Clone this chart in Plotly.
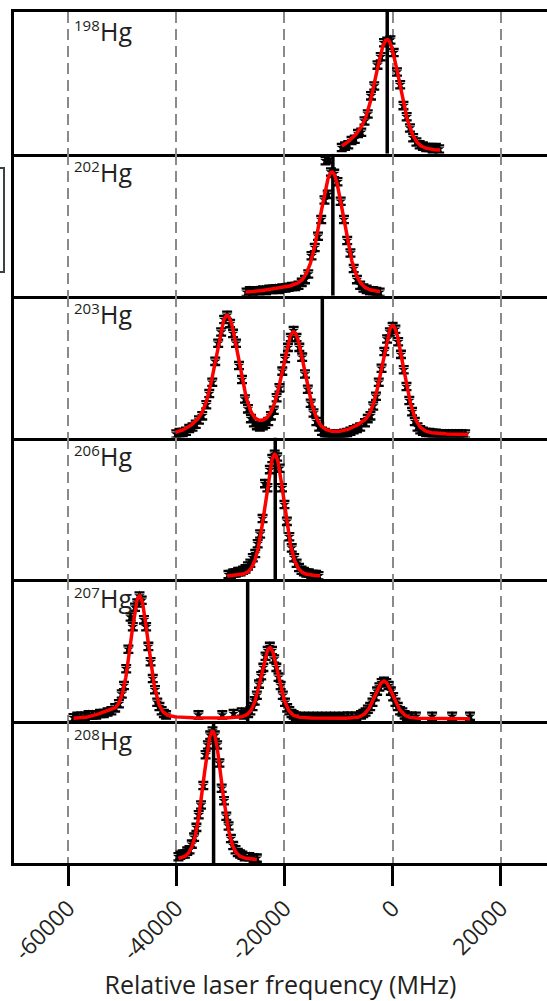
import numpy as np
import plotly.graph_objects as go
from plotly.subplots import make_subplots

# ---------------- data ----------------
isotopes = ["198", "202", "203", "206", "207", "208"]
tick_values = [-60000, -40000, -20000, 0, 20000]
tick_labels = ["-60000", "-40000", "-20000", "0", "20000"]
x_range = [-70000, 28540]
y_range = [-0.015, 1.0]
centroids = [-1000, -11050, -13000, -21700, -26800, -33100]

freq_198 = [-9400, -8800, -8200, -7600, -7000, -6400, -5800, -5200, -4600, -4000, -3400,
            -2800, -2200, -1600, -1000, -400, 200, 800, 1400, 2000, 2600, 3200, 3800,
            4400, 5000, 5600, 6200, 6800, 7400, 8000, 8600]
signal_198 = [0.03, 0.04, 0.05, 0.08, 0.09, 0.13, 0.14, 0.22, 0.27, 0.40, 0.47,
              0.62, 0.68, 0.78, 0.79, 0.80, 0.71, 0.57, 0.48, 0.33, 0.25, 0.17, 0.10,
              0.07, 0.05, 0.04, 0.03, 0.03, 0.02, 0.03, 0.02]

freq_202 = [-27000, -26400, -25800, -25200, -24600, -24000, -23400, -22800, -22200, -21600,
            -21000, -20400, -19800, -19200, -18600, -18000, -17400, -16800, -16200, -15600,
            -15000, -14400, -13800, -13200, -12600, -12400, -12000, -11800, -11400, -10800,
            -10200, -9600, -9000, -8400, -7800, -7200, -6600, -6000, -5400, -4800, -4200,
            -3600, -3000, -2400]
signal_202 = [0.01, 0.02, 0.015, 0.02, 0.02, 0.025, 0.02, 0.03, 0.03, 0.035,
              0.03, 0.04, 0.04, 0.045, 0.05, 0.05, 0.06, 0.08, 0.10, 0.14,
              0.27, 0.33, 0.41, 0.53, 0.67, 0.95, 0.71, 0.96, 0.87, 0.86,
              0.80, 0.66, 0.53, 0.38, 0.29, 0.18, 0.10, 0.06, 0.04, 0.03, 0.02,
              0.02, 0.015, 0.01]

freq_203 = [-40000, -39400, -38800, -38200, -37600, -37000, -36400, -35800, -35200, -34450,
            -33900, -33350, -32800, -32250, -31700, -31150, -30600, -30050, -29500, -28950,
            -28400, -27850, -27300, -26750, -26200, -25650, -25100, -24550, -24000, -23550,
            -23000, -22500, -21975, -21450, -20925, -20400, -19875, -19350, -18825, -18300,
            -17775, -17250, -16725, -16200, -15675, -15150, -14625, -14100, -13575, -13050,
            -12525, -12000, -11400, -10800, -10200, -9600, -9000, -8400, -7800, -7200,
            -6600, -6000, -5100, -4600, -4100, -3590, -3080, -2560, -2050, -1540,
            -1020, -510, 0, 510, 1020, 1540, 2050, 2560, 3080, 3590,
            4100, 4600, 5100, 5600, 6200, 6800, 7400, 8000, 8600, 9200,
            9800, 10400, 11000, 11600, 12200, 12800, 13400]
signal_203 = [0.01, 0.02, 0.02, 0.03, 0.05, 0.06, 0.08, 0.11, 0.14, 0.22,
              0.30, 0.38, 0.53, 0.66, 0.74, 0.83, 0.86, 0.80, 0.73, 0.66,
              0.50, 0.40, 0.26, 0.19, 0.12, 0.09, 0.07, 0.06, 0.07, 0.08,
              0.10, 0.14, 0.18, 0.27, 0.34, 0.46, 0.55, 0.63, 0.70, 0.75,
              0.70, 0.63, 0.56, 0.44, 0.33, 0.23, 0.16, 0.10, 0.06, 0.03,
              0.02, 0.01, 0.01, 0.01, 0.01, 0.01, 0.015, 0.02, 0.03, 0.04,
              0.05, 0.06, 0.09, 0.12, 0.14, 0.21, 0.28, 0.38, 0.48, 0.60,
              0.69, 0.74, 0.78, 0.76, 0.67, 0.58, 0.47, 0.35, 0.25, 0.17,
              0.10, 0.06, 0.04, 0.03, 0.02, 0.02, 0.015, 0.015, 0.01, 0.01,
              0.01, 0.01, 0.01, 0.01, 0.01, 0.01, 0.01]

freq_206 = [-30350, -29900, -29450, -29000, -28550, -28100, -27650, -27200, -26750, -26300,
            -25850, -25400, -24950, -24500, -24050, -23600, -23150, -22700, -22250, -21800,
            -21350, -20900, -20450, -20000, -19550, -19100, -18650, -18200, -17750, -17300,
            -16850, -16400, -15950, -15500, -15050, -14600, -14150, -13700]
signal_206 = [0.02, 0.02, 0.03, 0.03, 0.04, 0.04, 0.05, 0.06, 0.08, 0.10,
              0.14, 0.17, 0.24, 0.31, 0.42, 0.67, 0.64, 0.77, 0.85, 0.88,
              0.86, 0.78, 0.64, 0.52, 0.40, 0.29, 0.21, 0.14, 0.10, 0.07,
              0.05, 0.04, 0.03, 0.03, 0.02, 0.02, 0.02, 0.01]

freq_207 = [-59000, -58300, -57600, -56900, -56200, -55500, -54800, -54100, -53400, -52700,
            -52000, -51300, -50600, -50080, -49670, -49260, -48850, -48440, -48030, -47620,
            -47210, -46800, -46390, -45980, -45570, -45160, -44750, -44340, -43930, -43520,
            -43110, -42700, -42290, -41880, -35900, -31500, -29400, -27900, -27500, -26700,
            -26300, -25900, -25500, -25100, -24700, -24300, -23900, -23500, -23100, -22700,
            -22300, -21900, -21500, -21100, -20700, -20300, -19900, -19500, -19100, -18700,
            -18300, -17900, -17100, -16300, -15500, -14700, -13900, -13100, -12300, -11500,
            -10700, -9900, -9100, -8300, -7550, -6700, -5850, -5425, -5000, -4575,
            -4150, -3725, -3300, -2875, -2450, -2025, -1600, -1175, -750, -325,
            100, 525, 950, 1375, 1800, 2225, 2650, 3500, 4300, 7300,
            11000, 14300]
signal_207 = [0.01, 0.02, 0.02, 0.02, 0.03, 0.03, 0.03, 0.04, 0.04, 0.05,
              0.06, 0.08, 0.11, 0.18, 0.24, 0.36, 0.50, 0.73, 0.66, 0.80,
              0.83, 0.88, 0.85, 0.71, 0.66, 0.52, 0.41, 0.29, 0.21, 0.12,
              0.09, 0.06, 0.04, 0.03, 0.03, 0.03, 0.04, 0.05, 0.03, 0.04,
              0.06, 0.09, 0.13, 0.17, 0.25, 0.31, 0.37, 0.45, 0.49, 0.52,
              0.49, 0.43, 0.37, 0.30, 0.24, 0.17, 0.12, 0.08, 0.06, 0.04,
              0.03, 0.02, 0.02, 0.01, 0.02, 0.01, 0.02, 0.01, 0.02, 0.01,
              0.02, 0.01, 0.02, 0.02, 0.02, 0.02, 0.03, 0.04, 0.05, 0.07,
              0.09, 0.12, 0.16, 0.20, 0.23, 0.26, 0.27, 0.26, 0.24, 0.20,
              0.16, 0.12, 0.09, 0.06, 0.05, 0.03, 0.02, 0.02, 0.02, 0.02,
              0.02, 0.02]

freq_208 = [-39600, -39250, -38825, -38400, -37975, -37550, -37125, -36700, -36275, -35850,
            -35425, -35000, -34575, -34150, -33725, -33300, -32875, -32450, -32025, -31600,
            -31175, -30750, -30325, -29900, -29475, -29050, -28625, -28200, -27775, -27350,
            -26500, -25700, -25100]
signal_208 = [0.03, 0.04, 0.05, 0.05, 0.07, 0.08, 0.12, 0.17, 0.24, 0.33,
              0.40, 0.54, 0.76, 0.83, 0.90, 0.93, 0.90, 0.83, 0.70, 0.52,
              0.43, 0.32, 0.25, 0.16, 0.11, 0.08, 0.06, 0.05, 0.04, 0.03,
              0.03, 0.02, 0.02]

# fit-model parameters (peak centre, height, width)
fit_centers = [[-1000, -6500], [-11200, -17000], [-30600, -18300, 0, -36100, -23800, -5500],
               [-21800], [-46800, -22700, -1600, -52300], [-33300]]
fit_heights = [[0.80, 0.07], [0.85, 0.04], [0.85, 0.73, 0.78, 0.05, 0.04, 0.05],
               [0.88], [0.88, 0.51, 0.27, 0.04], [0.93]]
fit_widths = [[2300, 2000], [2200, 5000], [2200, 2100, 2050, 2000, 2000, 2000],
              [1750], [1650, 1600, 1700, 2200], [1700]]
fit_ranges = [[-9400, 8800], [-27200, -2300], [-40200, 14000],
              [-30600, -13400], [-59000, 14300], [-39600, -25100]]
lorentz_fraction = 0.2

freqs = [freq_198, freq_202, freq_203, freq_206, freq_207, freq_208]
signals = [signal_198, signal_202, signal_203, signal_206, signal_207, signal_208]

# ---------------- figure ----------------
fig = make_subplots(rows=6, cols=1, shared_xaxes=True, vertical_spacing=0)
FONT = "Open Sans"
TEXT = "#231f20"


def profile(x, centers, heights, widths):
    y = np.zeros_like(x)
    for c, a, s in zip(centers, heights, widths):
        g = np.exp(-(x - c) ** 2 / (2 * s ** 2))
        gam = s * 1.1774
        lo = 1.0 / (1.0 + ((x - c) / gam) ** 2)
        y += a * ((1 - lorentz_fraction) * g + lorentz_fraction * lo)
    return y


for i in range(6):
    row = i + 1
    fig.add_trace(go.Scatter(
        x=freqs[i], y=signals[i], mode="markers",
        marker=dict(symbol="star", size=8, color="black"),
        error_y=dict(type="constant", value=0.026, thickness=2.3, width=5, color="black"),
        showlegend=False, cliponaxis=True), row=row, col=1)
    # centroid marker line spanning the whole panel
    fig.add_trace(go.Scatter(x=[centroids[i], centroids[i]], y=y_range, mode="lines",
                             line=dict(color="black", width=3.5),
                             showlegend=False, cliponaxis=True), row=row, col=1)
    xf = np.linspace(fit_ranges[i][0], fit_ranges[i][1], 600)
    yf = profile(xf, fit_centers[i], fit_heights[i], fit_widths[i])
    fig.add_trace(go.Scatter(x=xf, y=yf, mode="lines",
                             line=dict(color="#ff0000", width=3.5),
                             showlegend=False), row=row, col=1)

    xname = "x" if row == 1 else f"x{row}"
    yname = "y" if row == 1 else f"y{row}"
    fig.add_annotation(text="Hg", xref=xname, yref=f"{yname} domain",
                       x=-54500, y=1 - 18.5 / 141.8, xanchor="left", yanchor="middle",
                       showarrow=False, font=dict(family=FONT, size=25, color=TEXT))
    fig.add_annotation(text=isotopes[i], xref=xname, yref=f"{yname} domain",
                       x=-59300, y=1 - 12.5 / 141.8, xanchor="left", yanchor="middle",
                       showarrow=False, font=dict(family=FONT, size=15, color=TEXT))

    bottom = row == 6
    fig.update_xaxes(
        row=row, col=1, range=x_range, tickvals=tick_values, ticktext=tick_labels,
        showline=True, linecolor="black", linewidth=2.5, mirror=(row == 1),
        ticks="outside", ticklen=20 if bottom else 7, tickwidth=2.5 if bottom else 2,
        tickcolor="black",
        showgrid=True, gridcolor="#8a8a8a", gridwidth=2, griddash="11px,6px",
        zeroline=False, showticklabels=bottom,
        tickangle=-45 if bottom else 0,
        tickfont=dict(family=FONT, size=23, color=TEXT),
    )
    fig.update_yaxes(row=row, col=1, range=y_range, showline=True,
                     linecolor="black", linewidth=2.5, ticks="", showticklabels=False,
                     showgrid=False, zeroline=False)

fig.update_xaxes(row=6, col=1, title=dict(text="Relative laser frequency (MHz)",
                                          font=dict(family=FONT, size=25, color=TEXT),
                                          standoff=12))

# partially visible frame on the left edge
fig.add_shape(type="rect", xref="paper", yref="paper",
              x0=-0.06, x1=(4 - 14) / 533, y0=(863 - 272) / 851, y1=(863 - 168) / 851,
              line=dict(color="#3b4242", width=2), fillcolor="rgba(0,0,0,0)")

fig.update_layout(
    width=547, height=1001,
    margin=dict(l=14, r=0, t=12, b=138),
    paper_bgcolor="white", plot_bgcolor="white",
    font=dict(family=FONT, color=TEXT),
)

fig.write_html("out.html")
